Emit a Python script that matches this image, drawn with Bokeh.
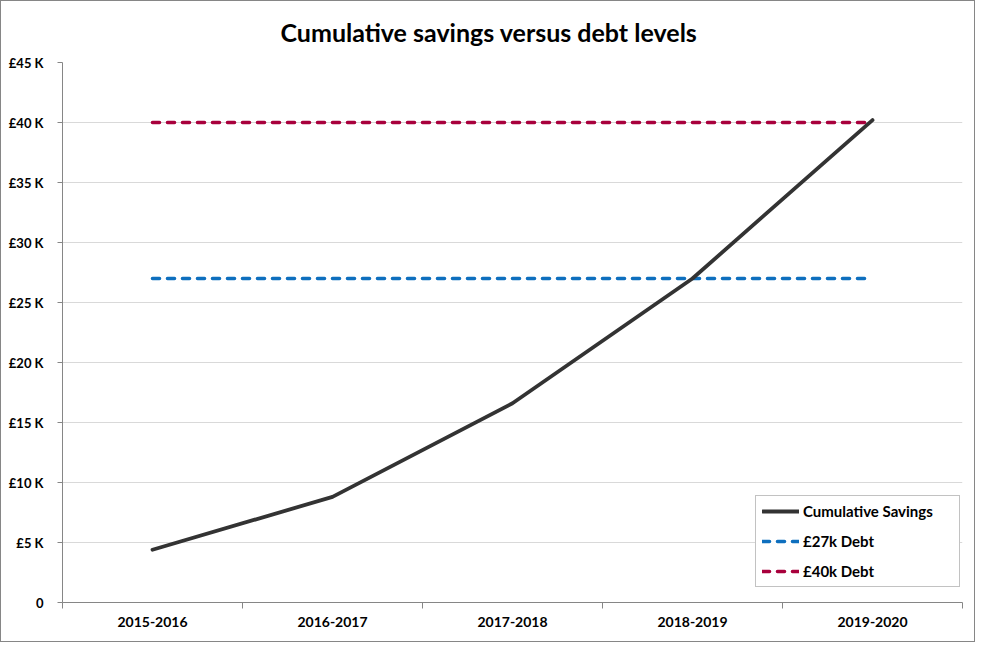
import numpy as np
from bokeh.plotting import figure
from bokeh.models import FixedTicker, Legend, LegendItem, Range1d, ColumnDataSource
from bokeh.embed import file_html
from bokeh.resources import INLINE

categories = ["2015-2016", "2016-2017", "2017-2018", "2018-2019", "2019-2020"]
savings = [4.4, 8.8, 16.6, 27.0, 40.2]
debt_27k = [27, 27, 27, 27, 27]
debt_40k = [40, 40, 40, 40, 40]
y_ticks = [0, 5, 10, 15, 20, 25, 30, 35, 40, 45]
y_tick_labels = ["0", "£5 K", "£10 K", "£15 K", "£20 K", "£25 K", "£30 K", "£35 K", "£40 K", "£45 K"]
title_text = "Cumulative savings versus debt levels"

FONT = "Lato"
xs = list(np.arange(len(categories)) + 0.5)

p = figure(width=975, height=642, output_backend="svg", toolbar_location=None,
           x_range=Range1d(0, len(categories)), y_range=Range1d(0, 45),
           min_border_left=61, min_border_right=14, min_border_top=10, min_border_bottom=41)
p.title.text = title_text
p.title.align = "left"
p.title.offset = 218
p.title.vertical_align = "middle"
p.title.text_font = FONT
p.title.text_font_size = "25px"
p.title.text_font_style = "bold"
p.title.text_color = "#000000"
p.title.standoff = 29

p.outline_line_color = None
p.background_fill_color = "white"
p.border_fill_color = "white"
p.styles = {"border": "1px solid #868686"}

# x axis
p.xaxis.ticker = FixedTicker(ticks=xs, minor_ticks=list(range(len(categories) + 1)))
p.xaxis.major_label_overrides = {float(x): c for x, c in zip(xs, categories)}
p.xaxis.major_tick_out = 0
p.xaxis.major_tick_in = 0
p.xaxis.minor_tick_out = 6
p.xaxis.minor_tick_in = 0
p.xaxis.minor_tick_line_color = "#868686"
p.xaxis.axis_line_color = "#868686"
p.xaxis.major_label_standoff = 8
p.xaxis.major_label_text_font = FONT
p.xaxis.major_label_text_font_style = "bold"
p.xaxis.major_label_text_font_size = "14px"
p.xaxis.major_label_text_color = "#000000"
p.xgrid.grid_line_color = None

# y axis
p.yaxis.ticker = FixedTicker(ticks=y_ticks)
p.yaxis.major_label_overrides = {t: l for t, l in zip(y_ticks, y_tick_labels)}
p.yaxis.major_tick_out = 5
p.yaxis.major_tick_in = 0
p.yaxis.minor_tick_line_color = None
p.yaxis.major_tick_line_color = "#868686"
p.yaxis.axis_line_color = "#868686"
p.yaxis.major_label_standoff = 14
p.yaxis.major_label_text_font = FONT
p.yaxis.major_label_text_font_style = "bold"
p.yaxis.major_label_text_font_size = "13px"
p.yaxis.major_label_text_color = "#000000"
p.ygrid.grid_line_color = "#D9D9D9"
p.ygrid.grid_line_width = 1
p.ygrid.ticker = FixedTicker(ticks=y_ticks[1:])

src = ColumnDataSource(dict(x=xs, savings=savings, d27=debt_27k, d40=debt_40k))
r40 = p.line("x", "d40", source=src, line_color="#A8003C", line_width=3.6,
             line_dash="7 8", line_cap="round")
r27 = p.line("x", "d27", source=src, line_color="#0E6FBE", line_width=3.6,
             line_dash="7 8", line_cap="round")
rs = p.line("x", "savings", source=src, line_color="#333333", line_width=3.8, line_cap="round")

legend = Legend(items=[LegendItem(label="Cumulative Savings", renderers=[rs]),
                       LegendItem(label="£27k Debt", renderers=[r27]),
                       LegendItem(label="£40k Debt", renderers=[r40])],
                location=(693, 15))
legend.label_text_font = FONT
legend.label_text_font_style = "bold"
legend.label_text_font_size = "15px"
legend.label_text_color = "#000000"
legend.border_line_color = "#868686"
legend.border_line_width = 1
legend.glyph_width = 37
legend.glyph_height = 16
legend.label_standoff = 4
legend.label_width = 150
legend.label_height = 16
legend.spacing = 12
legend.padding = 6
legend.margin = 0
legend.background_fill_alpha = 1
p.add_layout(legend)

open("out.html", "w").write(file_html(p, INLINE))
